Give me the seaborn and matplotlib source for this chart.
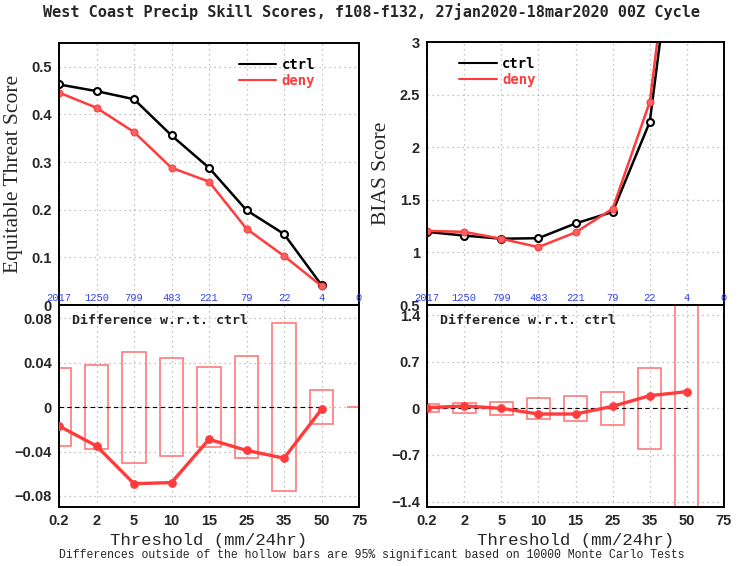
import matplotlib
matplotlib.use("Agg")
import matplotlib.pyplot as plt
import pandas as pd
import seaborn as sns

# thresholds (mm/24hr) and number of obs points above each
thresholds = ["0.2", "2", "5", "10", "15", "25", "35", "50", "75"]
counts = [2017, 1250, 799, 483, 221, 79, 22, 4, 0]

# Equitable threat score
ets_ctrl = [0.463, 0.449, 0.432, 0.356, 0.288, 0.199, 0.149, 0.042]
ets_deny = [0.446, 0.414, 0.363, 0.288, 0.259, 0.160, 0.103, 0.040]
ets_sig = [0.035, 0.038, 0.050, 0.044, 0.036, 0.046, 0.076, 0.0155, 0.0]

# Bias score
bias_ctrl = [1.195, 1.16, 1.13, 1.135, 1.275, 1.385, 2.24, 5.0]
bias_deny = [1.205, 1.195, 1.13, 1.05, 1.19, 1.415, 2.43, 5.25]
bias_sig = [0.06, 0.075, 0.10, 0.16, 0.185, 0.25, 0.605, 3.0]

sns.set_style("white")
plt.rcParams["font.family"] = ["Liberation Sans", "DejaVu Sans"]

RED = "#ff3b3b"
BAR = "#ff7a7a"
BLUE = "#3344ee"
W, H = 743, 566

fig = plt.figure(figsize=(W / 100, H / 100), dpi=100)


def box(x0, y0, x1, y1):
    return [x0 / W, 1 - y1 / H, (x1 - x0) / W, (y1 - y0) / H]


ax_tl = fig.add_axes(box(59, 43, 359, 305))
ax_bl = fig.add_axes(box(59, 305, 359, 507))
ax_tr = fig.add_axes(box(427, 42, 724, 305))
ax_br = fig.add_axes(box(427, 305, 724, 507))

pos = list(range(len(thresholds)))


def style(ax):
    for s in ax.spines.values():
        s.set_color("black")
        s.set_linewidth(1.4)
    ax.set_xlim(0, 8)
    ax.set_xticks(pos)
    ax.grid(True, color="#b0b0b0", linestyle=(0, (1, 3)), linewidth=0.9)
    ax.set_axisbelow(True)
    ax.tick_params(axis="both", direction="out", length=3, width=1,
                   labelsize=10.5, pad=2)
    for lab in ax.get_yticklabels():
        lab.set_fontweight("bold")


def top_panel(ax, ctrl, deny, ylim, yticks, ylabel, legend_x):
    df = pd.DataFrame({"x": pos[:len(ctrl)] * 2,
                       "val": ctrl + deny,
                       "exp": ["ctrl"] * len(ctrl) + ["deny"] * len(deny)})
    sns.lineplot(data=df[df.exp == "ctrl"], x="x", y="val", ax=ax,
                 color="black", lw=1.8, marker="o", markersize=5,
                 markerfacecolor="white", markeredgecolor="black",
                 markeredgewidth=1.5, label="ctrl", clip_on=True)
    sns.lineplot(data=df[df.exp == "deny"], x="x", y="val", ax=ax,
                 color=RED, lw=1.8, marker="o", markersize=5,
                 markerfacecolor="#ff6060", markeredgecolor=RED,
                 label="deny", clip_on=True)
    ax.set_ylim(*ylim)
    ax.set_yticks(yticks)
    ax.set_yticklabels([f"{t:g}" for t in yticks])
    style(ax)
    ax.tick_params(axis="x", labelbottom=False, length=0)
    ax.set_xlabel("")
    ax.set_ylabel(ylabel, family="Liberation Serif", fontsize=15.5, labelpad=6)
    for i, c in enumerate(counts):
        ax.text(i, 0.027, str(c), transform=ax.get_xaxis_transform(),
                ha="center", va="center", color=BLUE, fontsize=7.5,
                family="Liberation Mono")
    leg = ax.legend(loc="upper left", bbox_to_anchor=(legend_x, 0.965),
                    frameon=False, handlelength=2.7, handletextpad=0.4,
                    labelspacing=0.15, borderaxespad=0,
                    prop={"family": "DejaVu Sans Mono", "weight": "bold",
                          "size": 10})
    for line, txt in zip(leg.get_lines(), leg.get_texts()):
        line.set_marker("")
        line.set_linewidth(1.5)
        txt.set_color(line.get_color())


def diff_panel(ax, ctrl, deny, sig, ylim, yticks):
    n = len(ctrl)
    diff = pd.DataFrame({"x": pos[:n],
                         "d": [b - a for a, b in zip(ctrl, deny)]})
    ax.bar(pos[:len(sig)], [2 * s for s in sig], bottom=[-s for s in sig],
           width=0.62, fill=False, edgecolor=BAR, linewidth=1.2, zorder=2)
    ax.hlines(0, 0, n - 1, colors="black", linestyles=(0, (4, 3)),
              linewidth=0.8, zorder=3)
    sns.lineplot(data=diff, x="x", y="d", ax=ax, color=RED, lw=2.4,
                 marker="o", markersize=5.5, markeredgecolor=RED,
                 markerfacecolor=RED, zorder=4)
    ax.set_ylim(*ylim)
    ax.set_yticks(yticks)
    ax.set_yticklabels([f"{t:g}".replace("-", "\u2212") for t in yticks])
    style(ax)
    ax.set_xticklabels(thresholds, fontweight="bold", fontsize=10.5)
    ax.set_ylabel("")
    ax.set_xlabel("Threshold (mm/24hr)", family="Liberation Mono",
                  fontsize=12.5, labelpad=4)
    ax.text(0.045, 0.955, "Difference w.r.t. ctrl", transform=ax.transAxes,
            ha="left", va="top", fontsize=9.5, fontweight="bold",
            family="DejaVu Sans Mono")


top_panel(ax_tl, ets_ctrl, ets_deny, (0, 0.55), [0, 0.1, 0.2, 0.3, 0.4, 0.5],
          "Equitable Threat Score", 0.58)
top_panel(ax_tr, bias_ctrl, bias_deny, (0.5, 3), [0.5, 1, 1.5, 2, 2.5, 3],
          "BIAS Score", 0.09)
diff_panel(ax_bl, ets_ctrl, ets_deny, ets_sig, (-0.09, 0.092),
           [-0.08, -0.04, 0, 0.04, 0.08])
diff_panel(ax_br, bias_ctrl, bias_deny, bias_sig, (-1.48, 1.55),
           [-1.4, -0.7, 0, 0.7, 1.4])

fig.text(0.5, 1 - 12 / H,
         "West Coast Precip Skill Scores, f108-f132, 27jan2020-18mar2020 00Z Cycle",
         ha="center", va="center", fontsize=11, fontweight="bold",
         family="DejaVu Sans Mono")
fig.text(0.5, 1 - 555 / H,
         "Differences outside of the hollow bars are 95% significant based on 10000 Monte Carlo Tests",
         ha="center", va="center", fontsize=8.3, family="Liberation Mono")

fig.savefig("out.png", dpi=100)
